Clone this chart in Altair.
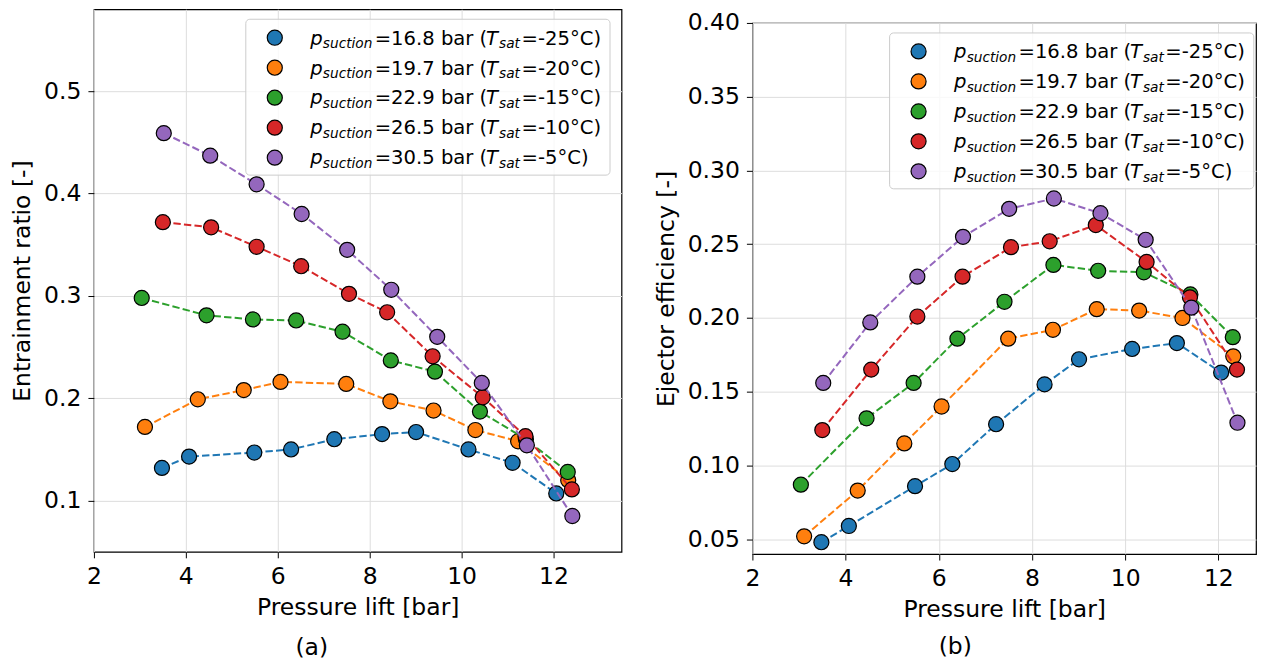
import altair as alt
import pandas as pd

# ---------------- data ----------------
p_suction = ["16.8", "19.7", "22.9", "26.5", "30.5"]
t_sat = ["-25", "-20", "-15", "-10", "-5"]
colors = ["#1f77b4", "#ff7f0e", "#2ca02c", "#d62728", "#9467bd"]

lift_168 = [3.48, 4.07, 5.49, 6.29, 7.23, 8.27, 9.01, 10.15, 11.11, 12.06]
lift_197 = [3.11, 4.26, 5.26, 6.06, 7.49, 8.45, 9.39, 10.30, 11.23, 12.32]
lift_229 = [3.04, 4.45, 5.46, 6.40, 7.41, 8.46, 9.42, 10.40, 11.40, 12.31]
lift_265 = [3.50, 4.55, 5.54, 6.51, 7.55, 8.38, 9.37, 10.46, 11.39, 12.40]
lift_305 = [3.52, 4.53, 5.54, 6.52, 7.51, 8.47, 9.47, 10.44, 11.42, 12.41]

ratio_168 = [0.132, 0.143, 0.147, 0.150, 0.160, 0.165, 0.167, 0.150, 0.137, 0.107]
ratio_197 = [0.172, 0.199, 0.208, 0.216, 0.214, 0.197, 0.188, 0.169, 0.158, 0.120]
ratio_229 = [0.298, 0.281, 0.277, 0.276, 0.265, 0.237, 0.226, 0.187, 0.160, 0.128]
ratio_265 = [0.372, 0.367, 0.348, 0.329, 0.302, 0.284, 0.241, 0.201, 0.163, 0.111]
ratio_305 = [0.459, 0.437, 0.409, 0.380, 0.345, 0.306, 0.260, 0.215, 0.154, 0.085]

eff_168 = [0.048, 0.059, 0.086, 0.101, 0.128, 0.155, 0.172, 0.179, 0.183, 0.163]
eff_197 = [0.052, 0.083, 0.115, 0.140, 0.186, 0.192, 0.206, 0.205, 0.200, 0.174]
eff_229 = [0.087, 0.132, 0.156, 0.186, 0.211, 0.236, 0.232, 0.231, 0.216, 0.187]
eff_265 = [0.124, 0.165, 0.201, 0.228, 0.248, 0.252, 0.263, 0.238, 0.214, 0.165]
eff_305 = [0.156, 0.197, 0.228, 0.255, 0.274, 0.281, 0.271, 0.253, 0.207, 0.129]

lifts = [lift_168, lift_197, lift_229, lift_265, lift_305]
ratios = [ratio_168, ratio_197, ratio_229, ratio_265, ratio_305]
effs = [eff_168, eff_197, eff_229, eff_265, eff_305]

x_ticks = [2, 4, 6, 8, 10, 12]
ratio_ticks = [0.1, 0.2, 0.3, 0.4, 0.5]
eff_ticks = [0.05, 0.10, 0.15, 0.20, 0.25, 0.30, 0.35, 0.40]

FONT = "DejaVu Sans"
AX_FS = 23.5
MAIN_FS = 19.6
SUB_FS = 13.7
one = pd.DataFrame({"k": [0]})


def legend_layers(bx0):
    layers = []
    bx1 = bx0 + 364.5
    by0, by1 = 10, 166
    layers.append(
        alt.Chart(one).mark_rect(fill="white", fillOpacity=0.8, stroke="#cccccc",
                                 strokeWidth=1, cornerRadius=4)
        .encode(x=alt.value(bx0), x2=alt.value(bx1), y=alt.value(by0), y2=alt.value(by1))
    )
    mx = bx0 + 29
    tx = bx0 + 64.5
    for i in range(5):
        yc = by0 + 18.5 + 30 * i
        layers.append(
            alt.Chart(one).mark_circle(color=colors[i], stroke="black", strokeWidth=1.2,
                                       size=227, opacity=1)
            .encode(x=alt.value(mx), y=alt.value(yc))
        )
        pieces = [
            ("p", 0, MAIN_FS, "italic", 6.8),
            ("suction", 12.6, SUB_FS, "italic", 10.3),
            ("=" + p_suction[i] + " bar (", 64.5, MAIN_FS, "normal", 6.8),
            ("T", 176.0, MAIN_FS, "italic", 6.8),
            ("sat", 189.0, SUB_FS, "italic", 10.3),
            ("=" + t_sat[i] + "°C)", 211.5, MAIN_FS, "normal", 6.8),
        ]
        for txt, dx, fs, style, dy in pieces:
            layers.append(
                alt.Chart(one).mark_text(text=txt, align="left", baseline="alphabetic",
                                         font=FONT, fontSize=fs, fontStyle=style,
                                         color="black")
                .encode(x=alt.value(tx + dx), y=alt.value(yc + dy))
            )
    return layers


def panel(values, ydom, yticks, yfmt, ytitle, xmax, W, H, cap, capdx, capoff, legx):
    layers = []
    for i in range(5):
        df = pd.DataFrame({"lift": lifts[i], "val": values[i]})
        base = alt.Chart(df).encode(
            x=alt.X("lift:Q",
                    scale=alt.Scale(domain=[2, xmax], nice=False, zero=False),
                    axis=alt.Axis(values=x_ticks, format="d", title="Pressure lift [bar]",
                                  labelFlush=False, labelPadding=6.5, titlePadding=7.5)),
            y=alt.Y("val:Q",
                    scale=alt.Scale(domain=ydom, nice=False, zero=False),
                    axis=alt.Axis(values=yticks, format=yfmt, title=ytitle,
                                  labelPadding=7, titlePadding=9)),
        )
        layers.append(base.mark_line(color=colors[i], strokeDash=[7.4, 3.2], strokeWidth=2))
        layers.append(base.mark_circle(color=colors[i], stroke="black", strokeWidth=1.2,
                                       size=227, opacity=1))
    layers += legend_layers(legx)
    return alt.layer(*layers).properties(
        width=W, height=H,
        title=alt.TitleParams(cap, orient="bottom", anchor="middle", frame="group",
                              dx=capdx, offset=capoff, fontSize=AX_FS, font=FONT,
                              fontWeight="normal", color="black"),
    )


left = panel(ratios, [0.05, 0.58], ratio_ticks, ".1f", "Entrainment ratio [-]",
             13.48, 528, 543, "(a)", -46, 17, 152)
right = panel(effs, [0.04, 0.40], eff_ticks, ".2f", "Ejector efficiency [-]",
              12.808, 504, 531.5, "(b)", -49, 14.5, 137.3)

spacer = (
    alt.Chart(one).mark_point(opacity=0, size=1)
    .encode(x=alt.value(0.5), y=alt.value(0.5))
    .properties(width=1, height=1, view=alt.ViewBackground(stroke="transparent"))
)
right_col = alt.vconcat(spacer, right, spacing=12.7, bounds="flush")

chart = (
    alt.hconcat(left, right_col, spacing=31)
    .properties(padding={"left": 2, "top": 0, "right": 0, "bottom": 0})
    .configure_view(stroke="black", strokeWidth=1.2)
    .configure_axis(
        labelFont=FONT, titleFont=FONT, labelFontSize=AX_FS, titleFontSize=AX_FS,
        titleFontWeight="normal", labelColor="black", titleColor="black",
        tickColor="black", tickSize=6, tickWidth=1, domain=False,
        gridColor="#dddddd", gridWidth=1, labelOverlap=False,
    )
)

chart.save("out.html", embed_options={"renderer": "svg", "actions": False})
